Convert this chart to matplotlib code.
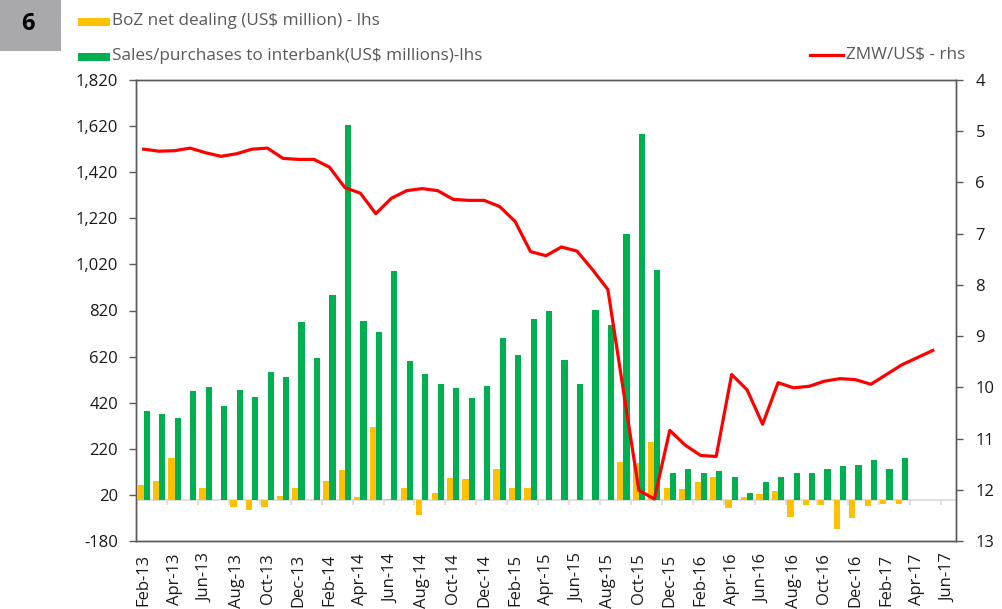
import numpy as np
import pandas as pd
import matplotlib
matplotlib.use("Agg")
import matplotlib.pyplot as plt
from matplotlib.patches import Rectangle

plt.rcParams["font.family"] = ["Open Sans", "DejaVu Sans"]

# ── Data ──────────────────────────────────────────────────────────────────────
months = pd.date_range("2013-02-01", "2017-06-01", freq="MS").strftime("%b-%y").tolist()

boz_net = [62, 79, 179, 0, 48, 0, -34, -45, -34, 16,
           49, 0, 81, 128, 9, 314, 2, 49, -67, 30,
           95, 88, 0, 131, 52, 52, 0, 0, 0, 0,
           0, 161, 157, 249, 52, 45, 74, 98, -35, 11,
           24, 36, -75, -23, -23, -127, -80, -26, -19, -19]

interbank = [384, 369, 352, 470, 487, 405, 473, 446, 554, 533,
             772, 615, 888, 1623, 773, 726, 991, 603, 546, 502,
             482, 439, 492, 701, 629, 785, 816, 606, 499, 823,
             759, 1153, 1587, 996, 113, 131, 117, 123, 97, 29,
             74, 97, 114, 114, 131, 146, 150, 170, 131, 180]

zmw_usd = [5.35, 5.39, 5.38, 5.33, 5.42, 5.49, 5.44, 5.35, 5.33, 5.53,
           5.55, 5.55, 5.70, 6.10, 6.21, 6.61, 6.31, 6.16, 6.12, 6.16,
           6.33, 6.35, 6.35, 6.47, 6.76, 7.35, 7.43, 7.26, 7.34, 7.70,
           8.09, 10.06, 12.01, 12.18, 10.84, 11.13, 11.33, 11.35, 9.75, 10.05,
           10.72, 9.91, 10.01, 9.98, 9.88, 9.83, 9.85, 9.94, 9.75, 9.56,
           9.42, 9.28]

left_ticks = list(range(-180, 1821, 200))
right_ticks = list(range(4, 14))

# ── Colours ───────────────────────────────────────────────────────────────────
C_YEL = "#FFC000"
C_GRN = "#00B050"
C_RED = "#FF0000"
C_AX = "#595959"
C_TXT = "#1a1a1a"
C_LEG = "#595959"
LEG_FS = 12.3

fig = plt.figure(figsize=(10.02, 6.09), dpi=100)
ax = fig.add_axes([136 / 1002, 1 - 541 / 609, (956 - 136) / 1002, (541 - 80) / 609])

x_b = np.arange(len(interbank))
w = 0.4
ax.axhline(0, color="#D9D9D9", lw=1.2, zorder=1)
ax.vlines(np.arange(-0.5, len(months), 2), -22, 0, color="#D9D9D9", lw=1.2, zorder=1)
ax.bar(x_b - w / 2, boz_net, width=w, color=C_YEL, zorder=2)
ax.bar(x_b + w / 2, interbank, width=w, color=C_GRN, zorder=2)

ax.set_xlim(-0.5, len(months) - 0.5)
ax.set_ylim(-180, 1820)
ax.set_yticks(left_ticks)
ax.set_yticklabels([f"{v:,}" for v in left_ticks])
ax.set_xticks(np.arange(0, len(months), 2))
ax.set_xticklabels(months[::2], rotation=90)
ax.tick_params(axis="x", length=0, pad=9, labelsize=12, labelcolor=C_TXT)
ax.tick_params(axis="y", length=5, width=1, color=C_AX, pad=8, labelsize=12, labelcolor=C_TXT)

ax2 = ax.twinx()
ax2.plot(np.arange(len(zmw_usd)), zmw_usd, color=C_RED, lw=2.3, zorder=5)
ax2.set_ylim(13, 4)
ax2.set_yticks(right_ticks)
ax2.tick_params(axis="y", length=5, width=1, color=C_AX, pad=9, labelsize=12, labelcolor=C_TXT)

for a in (ax, ax2):
    for s in a.spines.values():
        s.set_color(C_AX)
        s.set_linewidth(1.0)

# ── Header: panel number box and legend ───────────────────────────────────────
fig.patches.append(Rectangle((0, 1 - 51 / 609), 61 / 1002, 51 / 609,
                             transform=fig.transFigure, facecolor="#A9A9AC",
                             edgecolor="none", zorder=0))
fig.text(28 / 1002, 1 - 24 / 609, "6", ha="center", va="center",
         fontsize=17, fontweight="bold", color="black")

def leg_patch(y, col):
    fig.patches.append(Rectangle((78 / 1002, 1 - (y + 4) / 609), 32 / 1002, 8 / 609,
                                 transform=fig.transFigure, facecolor=col,
                                 edgecolor="none"))

leg_patch(22, C_YEL)
fig.text(112 / 1002, 1 - 21 / 609, "BoZ net dealing (US$ million) - lhs",
         ha="left", va="center", fontsize=LEG_FS, color=C_LEG)
leg_patch(57, C_GRN)
fig.text(112 / 1002, 1 - 56 / 609, "Sales/purchases to interbank(US$ millions)-lhs",
         ha="left", va="center", fontsize=LEG_FS, color=C_LEG)
fig.add_artist(plt.Line2D([810 / 1002, 843 / 1002], [1 - 55 / 609, 1 - 55 / 609],
                          transform=fig.transFigure, color=C_RED, lw=2.3))
fig.text(846 / 1002, 1 - 54 / 609, "ZMW/US$ - rhs",
         ha="left", va="center", fontsize=LEG_FS, color=C_LEG)

fig.savefig("out.png", dpi=100, facecolor="white")
